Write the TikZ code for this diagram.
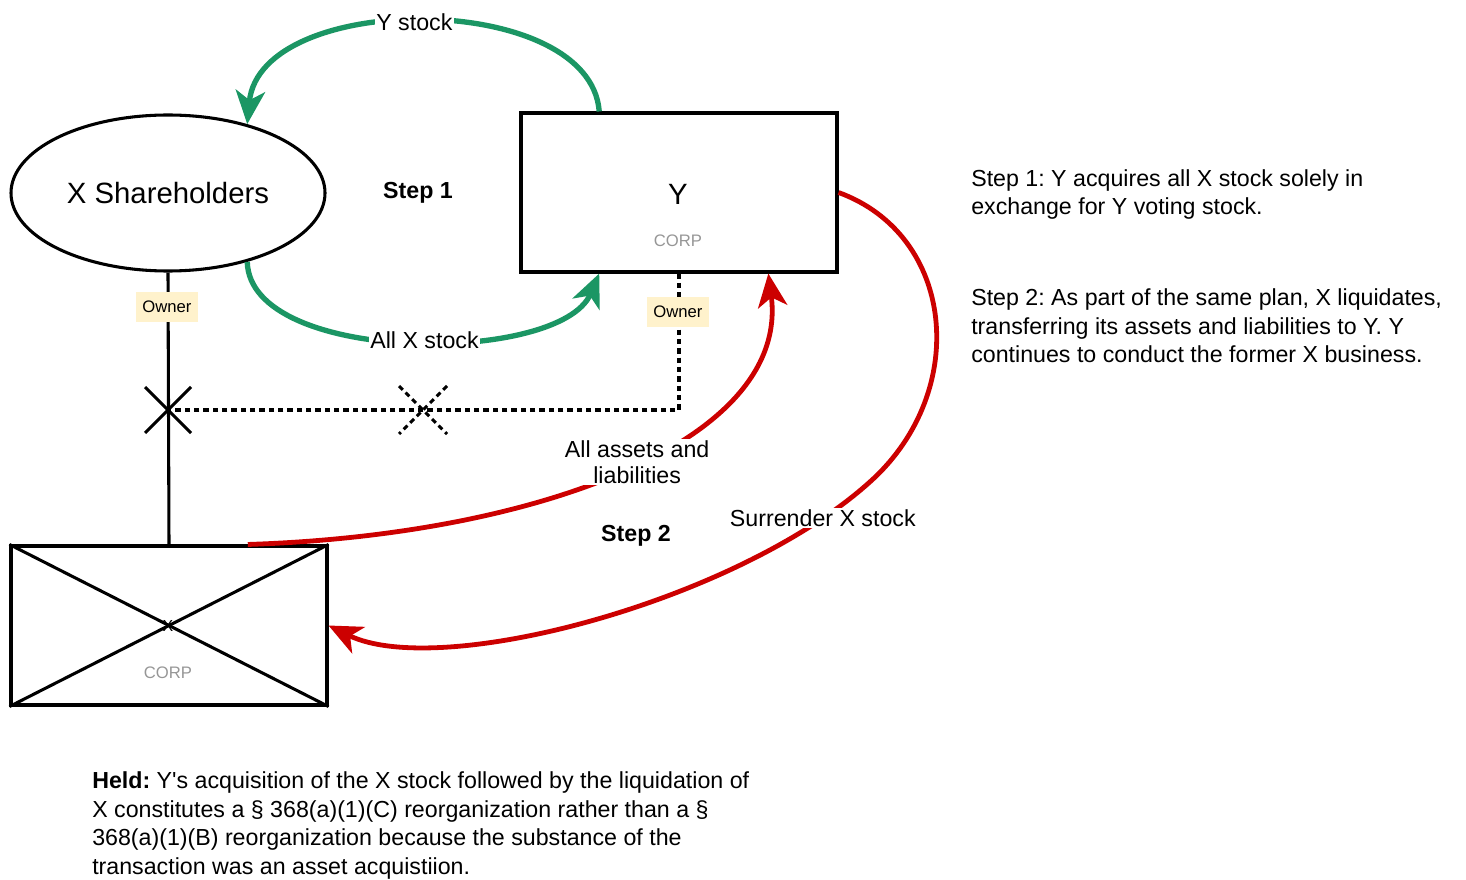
\documentclass[tikz,border=0pt]{standalone}
\usepackage{fontspec}
\setmainfont{Liberation Sans}[Ligatures=TeXOff]
\usetikzlibrary{shapes.geometric,arrows.meta,calc}
\definecolor{grn}{RGB}{27,150,100}
\definecolor{rd}{RGB}{204,0,0}
\definecolor{ownerfill}{RGB}{255,242,204}
\definecolor{corpgray}{RGB}{150,150,150}
\frenchspacing
\begin{document}
\begin{tikzpicture}[x=0.75pt,y=-0.75pt,
  entity/.style={draw=black, line width=2.3pt, inner sep=0pt},
  corpbox/.style={entity, rectangle, minimum width=237pt, minimum height=119.25pt},
  owner/.style={fill=ownerfill, font=\fontsize{12.5}{15}\selectfont, inner sep=0pt, minimum width=47pt, minimum height=22.5pt},
  lbl/.style={font=\fontsize{17.4}{19.5}\selectfont, fill=white, inner sep=1pt},
  body/.style={font=\fontsize{17.4}{21.4}\selectfont, align=left, inner sep=0pt, anchor=west},
  steplbl/.style={font=\fontsize{17.4}{21}\selectfont\bfseries},
  corplbl/.style={font=\fontsize{12.5}{15}\selectfont, text=corpgray},
  grnarrow/.style={draw=grn, line width=4pt, -{Stealth[length=25pt,width=22pt,inset=7pt]}},
  redarrow/.style={draw=rd, line width=3.6pt, -{Stealth[length=25pt,width=22pt,inset=7pt]}},
  link/.style={draw=black, line width=2.3pt},
  dotlink/.style={draw=black, line width=2.3pt, dash pattern=on 4pt off 3pt},
]
\useasboundingbox (0,0) rectangle (1466,880);

% entities
\node[entity, ellipse, minimum width=235.5pt, minimum height=117pt,
      font=\fontsize{22}{26}\selectfont] (xsh) at (168,193) {X Shareholders};
\node[corpbox] (ybox) at (679,192.5) {};
\node[font=\fontsize{22}{26}\selectfont] (ylbl) at (678,194) {Y};
\node[corplbl] (ycorp) at (678,241) {CORP};
\node[corpbox] (xbox) at (169,625.5) {};
\draw[link] (xbox.north west) -- (xbox.south east);
\draw[link] (xbox.south west) -- (xbox.north east);
\node[font=\fontsize{12}{14}\selectfont] (xmark) at (168,626) {X};
\node[corplbl] (xcorp) at (168,673) {CORP};

% step labels
\node[steplbl] (s1) at (418,193) {Step 1};
\node[steplbl] (s2) at (636,536) {Step 2};

% ownership lines
\coordinate (cut) at (168,410);
\coordinate (dcut) at (423,410);
\draw[link] (xsh.south) -- (xbox.north);
\draw[dotlink] (ybox.south) |- (cut);
\draw[link] (cut) ++(-23,-23) -- ++(46,46);
\draw[link] (cut) ++(23,-23) -- ++(-46,46);
\draw[dotlink] (dcut) ++(-24,-24) -- ++(48,48);
\draw[dotlink] (dcut) ++(24,-24) -- ++(-48,48);
\node[owner] (own1) at (167,307) {Owner};
\node[owner] (own2) at (678,312) {Owner};

% anchor points
\coordinate (ytop) at ($(ybox.north west)!0.25!(ybox.north east)$);
\coordinate (ybot) at ($(ybox.south west)!0.25!(ybox.south east)$);
\coordinate (ybotr) at ($(ybox.south west)!0.78!(ybox.south east)$);
\coordinate (xtop) at ($(xbox.north west)!0.747!(xbox.north east)$);

% green step 1 arrows
\draw[grnarrow] (ytop) .. controls (590,-10) and (260,-10) .. (xsh.41.5)
  node[pos=0.52, lbl] {Y stock};
\draw[grnarrow] (xsh.-41.5) .. controls (250,365) and (560,365) .. (ybot)
  node[pos=0.53, lbl] {All X stock};

% red step 2 arrows
\draw[redarrow] (xtop) .. controls (540,535) and (790,440) .. (ybotr)
  node[pos=0.52, lbl, align=center] {All assets and\\liabilities};
\draw[redarrow] (ybox.east) .. controls (955,235) and (970,390) .. (872,480)
  .. controls (740,601) and (440,680) .. (xbox.east)
  node[pos=0.11, lbl] {Surrender X stock};

% texts
\node[body] (t1) at (971,194.5) {Step 1: Y acquires all X stock solely in\\exchange for Y voting stock.};
\node[body] (t2) at (971,326) {Step 2: As part of the same plan, X liquidates,\\transferring its assets and liabilities to Y. Y\\continues to conduct the former X business.};
\node[body] (held) at (92,825.5) {\textbf{Held:} Y's acquisition of the X stock followed by the liquidation of\\X constitutes a § 368(a)(1)(C) reorganization rather than a §\\368(a)(1)(B) reorganization because the substance of the\\transaction was an asset acquistiion.};
\end{tikzpicture}
\end{document}
